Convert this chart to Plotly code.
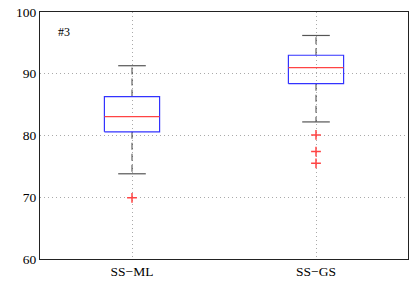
import plotly.graph_objects as go

categories = ["SS\u2212ML", "SS\u2212GS"]
positions = [1, 2]
q1 = [80.6, 88.4]
median = [83.05, 91.0]
q3 = [86.3, 93.0]
lower_whisker = [73.8, 82.2]
upper_whisker = [91.3, 96.2]
outliers = [[69.9], [80.1, 77.4, 75.5]]
yticks = [60, 70, 80, 90, 100]

box_half = 0.15
cap_half = 0.075

fig = go.Figure()

for i, p in enumerate(positions):
    # whiskers (dashed)
    for a, b in [(q3[i], upper_whisker[i]), (q1[i], lower_whisker[i])]:
        fig.add_trace(go.Scatter(x=[p, p], y=[a, b], mode="lines",
                                 line=dict(color="#000000", width=1.2, dash="7px,4px"),
                                 opacity=0.6, hoverinfo="skip", showlegend=False))
    # caps
    for v in [upper_whisker[i], lower_whisker[i]]:
        fig.add_trace(go.Scatter(x=[p - cap_half, p + cap_half], y=[v, v], mode="lines",
                                 line=dict(color="#555555", width=1.2),
                                 hoverinfo="skip", showlegend=False))
    # box
    fig.add_trace(go.Scatter(x=[p - box_half, p + box_half, p + box_half, p - box_half, p - box_half],
                             y=[q1[i], q1[i], q3[i], q3[i], q1[i]], mode="lines",
                             line=dict(color="#3333ff", width=1.2),
                             hoverinfo="skip", showlegend=False))
    # median
    fig.add_trace(go.Scatter(x=[p - box_half, p + box_half], y=[median[i], median[i]], mode="lines",
                             line=dict(color="#ff4444", width=1.2),
                             hoverinfo="skip", showlegend=False))
    # outliers
    fig.add_trace(go.Scatter(x=[p] * len(outliers[i]), y=outliers[i], mode="markers",
                             marker=dict(symbol="cross-thin", size=7, color="#ff4444",
                                         line=dict(color="#ff4444", width=1.5)),
                             hoverinfo="skip", showlegend=False))

fig.add_annotation(x=0.628, y=96.7, text="#3", showarrow=False,
                   font=dict(family="Liberation Serif, Times New Roman, serif", size=12, color="#000000"))

fig.update_layout(
    width=409, height=282,
    margin=dict(l=40, r=1, t=12, b=23),
    paper_bgcolor="white", plot_bgcolor="white",
    font=dict(family="Liberation Serif, Times New Roman, serif", size=13.5, color="#000000"),
    xaxis=dict(range=[0.5, 2.5], tickvals=positions, ticktext=categories,
               showgrid=True, gridcolor="#aaaaaa", griddash="1px,3px", gridwidth=1,
               showline=True, linecolor="#222222", linewidth=1.2, mirror=True,
               ticks="", zeroline=False, fixedrange=True),
    yaxis=dict(range=[60, 100], tickvals=yticks,
               showgrid=True, gridcolor="#aaaaaa", griddash="1px,3px", gridwidth=1,
               showline=True, linecolor="#222222", linewidth=1.2, mirror=True,
               ticks="", zeroline=False, fixedrange=True),
)

fig.write_html("out.html", config={"displayModeBar": False},
               post_script="document.body.style.margin='0';")
